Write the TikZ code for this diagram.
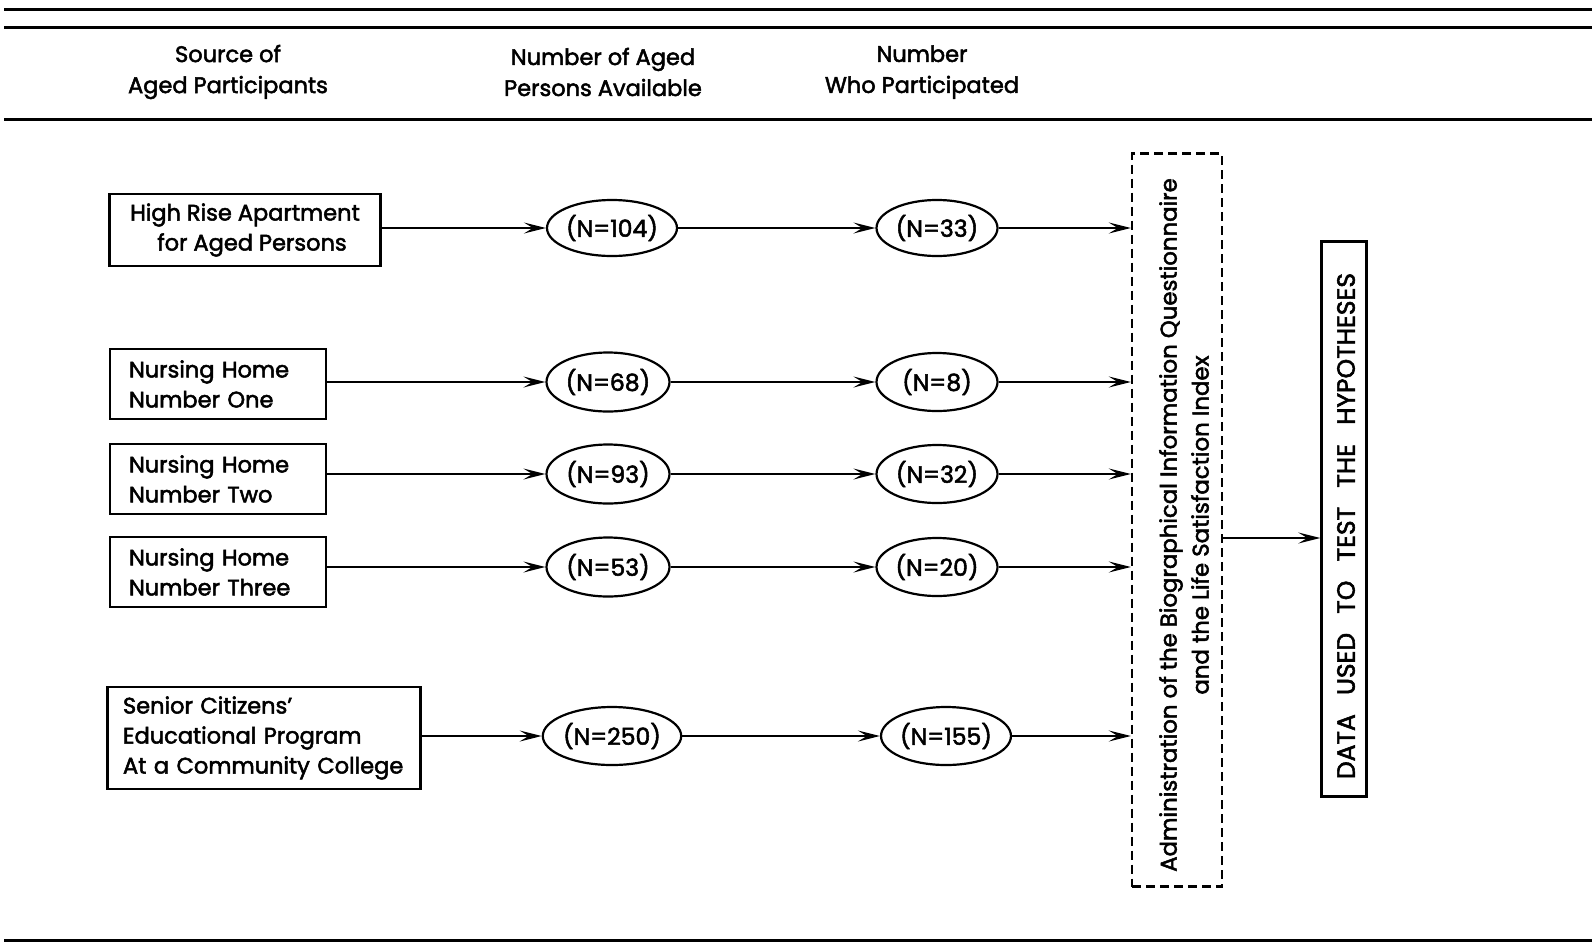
\documentclass[tikz,border=0pt]{standalone}
\usepackage{fontspec}
\setmainfont{Poppins}[FakeBold=2.2]
\usetikzlibrary{arrows.meta,shapes.geometric}
\begin{document}
\begin{tikzpicture}[x=1pt,y=-1pt,
  every node/.style={font=\fontsize{22.5}{30}\selectfont, inner sep=0pt},
  srcbox/.style={draw, line width=2.4pt, text width=#1, align=left, minimum height=70pt},
  count/.style={draw, ellipse, line width=2.2pt, minimum width=121pt, minimum height=56pt, font=\fontsize{23.5}{28}\selectfont},
  rule/.style={line width=3pt},
  flow/.style={line width=2pt, -{Stealth[length=22pt,width=11pt,inset=9pt]}},
  hdr/.style={align=center, font=\fontsize{22.5}{31}\selectfont}]
\useasboundingbox (0,0) rectangle (1592,948);

% horizontal table rules
\draw[rule] (4,9) -- (1592,9);
\draw[rule] (4,27) -- (1592,27);
\draw[rule] (4,119) -- (1592,119);
\draw[rule] (4,940) -- (1592,940);

% column headings
\node[hdr] (h1) at (228,72) {Source of\\Aged Participants};
\node[hdr] (h2) at (603,72) {Number of Aged\\Persons Available};
\node[hdr] (h3) at (922,72) {Number\\Who Participated};

% sources
\node[draw, line width=2.4pt, minimum width=271pt, minimum height=72pt, align=center] (s1) at (245,230) {High Rise Apartment\\\hspace*{14pt}for Aged Persons};
\node[srcbox=178pt, minimum width=216pt] (s2) at (218,384) {Nursing Home\\Number One};
\node[srcbox=178pt, minimum width=216pt] (s3) at (218,479) {Nursing Home\\Number Two};
\node[srcbox=178pt, minimum width=216pt] (s4) at (218,572) {Nursing Home\\Number Three};
\node[srcbox=282pt, minimum width=313pt, minimum height=102pt] (s5) at (264,738) {Senior Citizens'\\Educational Program\\At a Community College};

% persons available
\node[count] (a1) at (612,228) {(N=104)};
\node[count, minimum width=123pt, minimum height=59pt] (a2) at (608,382) {(N=68)};
\node[count, minimum width=123pt, minimum height=59pt] (a3) at (608,474) {(N=93)};
\node[count, minimum width=123pt, minimum height=59pt] (a4) at (608,567) {(N=53)};
\node[count, minimum height=58pt] (a5) at (612,736) {(N=250)};

% participants
\node[count] (p1) at (937,228) {(N=33)};
\node[count, minimum height=58pt] (p2) at (937,382) {(N=8)};
\node[count, minimum height=58pt] (p3) at (937,474) {(N=32)};
\node[count, minimum height=58pt] (p4) at (937,567) {(N=20)};
\node[count, minimum height=58pt] (p5) at (946,736) {(N=155)};

% instrument administration (dashed)
\node[draw, dashed, dash pattern=on 9pt off 5pt, line width=2.4pt, minimum width=90pt, minimum height=733pt] (adm) at (1177,520) {};
\node[rotate=90, align=center, font=\fontsize{22.8}{32}\selectfont] (admtxt) at (1184,525) {Administration of the Biographical Information Questionnaire\\and the Life Satisfaction Index};

% result
\node[draw, line width=2.4pt, minimum width=45pt, minimum height=555pt] (res) at (1344,519) {};
\node[rotate=90, font=\fontsize{25}{26}\selectfont] (restxt) at (1346,526) {DATA\hspace{0.5em} USED\hspace{0.5em} TO\hspace{0.5em} TEST\hspace{0.5em} THE\hspace{0.5em} HYPOTHESES};

% flows
\foreach \i in {1,...,5} {
  \draw[flow] (s\i.east |- a\i.west) -- (a\i.west);
  \draw[flow] (a\i.east) -- (p\i.west);
  \draw[flow] (p\i.east) -- (adm.west |- p\i.east);
}
\path (adm.east |- res.west) ++(0,19) coordinate (outs);
\draw[flow] (outs) -- (res.west |- outs);
\end{tikzpicture}
\end{document}
